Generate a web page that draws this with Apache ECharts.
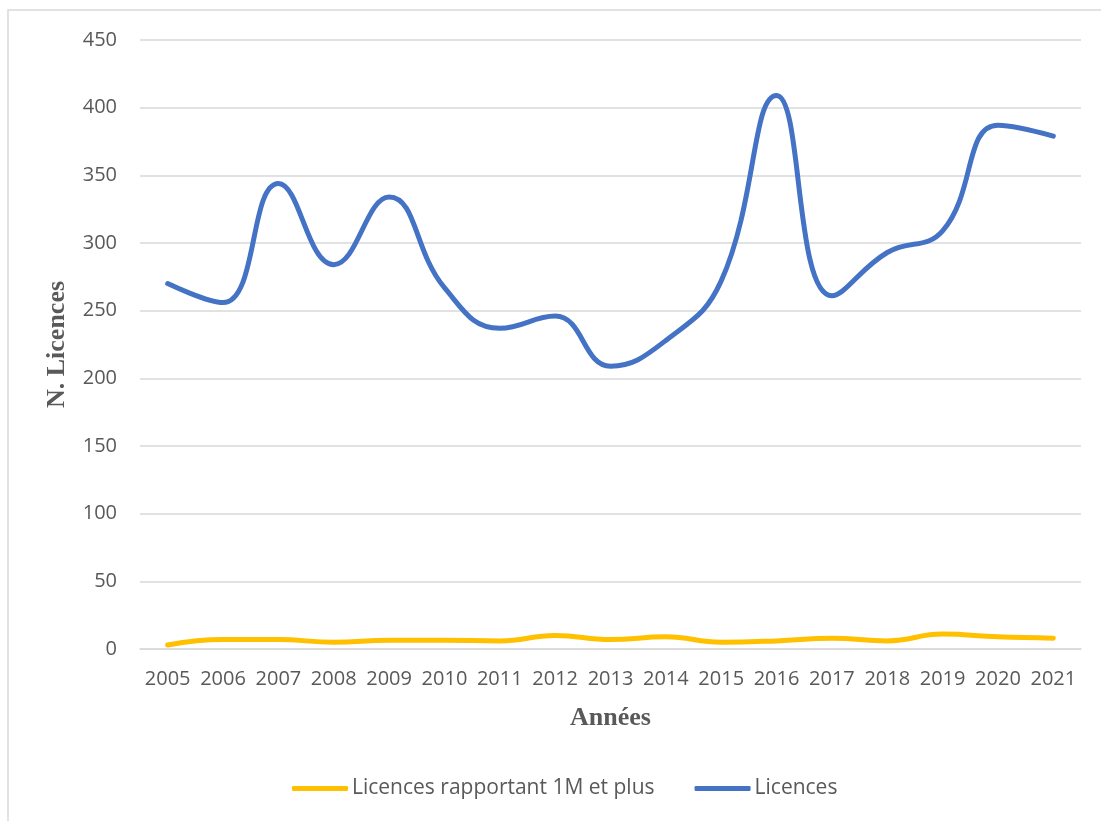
<!DOCTYPE html>
<html>
<head>
<meta charset="utf-8">
<script src="https://cdn.jsdelivr.net/npm/echarts@6/dist/echarts.min.js"></script>
<style>
  html, body { margin: 0; padding: 0; background: #fff; }
  #chart { width: 1101px; height: 821px; }
</style>
</head>
<body>
<div id="chart"></div>
<script>
// data
var years = ['2005', '2006', '2007', '2008', '2009', '2010', '2011', '2012', '2013',
             '2014', '2015', '2016', '2017', '2018', '2019', '2020', '2021'];
var licences1M = [3, 7, 7, 5, 6.5, 6.5, 6, 10, 7, 9, 5, 6, 8, 6, 11, 9, 8];
var licences = [270, 256, 344, 284, 334, 267, 237, 246, 209, 228, 272, 409, 261, 293, 309, 387, 379];
var yTicks = [0, 50, 100, 150, 200, 250, 300, 350, 400, 450];

var txtColor = '#595959';
var labelFont = '"Open Sans", "Noto Sans", sans-serif';
var titleFont = '"Liberation Serif", "DejaVu Serif", serif';

var myChart = echarts.init(document.getElementById('chart'), null, {renderer: 'canvas'});
var option = {
    animation: false,
    backgroundColor: '#fff',
    graphic: [
        {
            type: 'rect',
            shape: {x: 8, y: 10, width: 1110, height: 830},
            style: {fill: 'none', stroke: '#d9d9d9', lineWidth: 1.5},
            silent: true
        }
    ],
    grid: {left: 140, right: 20, top: 40, bottom: 172},
    legend: {
        bottom: 17,
        left: 287,
        itemWidth: 56,
        itemHeight: 5,
        itemGap: 40,
        textStyle: {color: txtColor, fontFamily: labelFont, fontSize: 21, padding: [0, 0, 0, -1]},
        data: [
            {name: 'Licences rapportant 1M et plus', icon: 'roundRect'},
            {name: 'Licences', icon: 'roundRect'}
        ]
    },
    xAxis: {
        type: 'category',
        data: years,
        boundaryGap: true,
        name: 'Années',
        nameLocation: 'middle',
        nameGap: 56,
        nameTextStyle: {color: txtColor, fontFamily: titleFont, fontWeight: 'bold', fontSize: 26},
        axisLine: {show: true, lineStyle: {color: '#d9d9d9', width: 1.5}},
        axisTick: {show: false},
        axisLabel: {color: txtColor, fontFamily: labelFont, fontSize: 20, margin: 20, interval: 0}
    },
    yAxis: {
        type: 'value',
        min: 0,
        max: 450,
        interval: 50,
        name: 'N. Licences',
        nameLocation: 'middle',
        nameGap: 70,
        nameRotate: 90,
        nameTextStyle: {color: txtColor, fontFamily: titleFont, fontWeight: 'bold', fontSize: 26},
        axisLine: {show: false},
        axisTick: {show: false},
        axisLabel: {
            color: txtColor, fontFamily: labelFont, fontSize: 20, margin: 23,
            formatter: function (v) { return yTicks.indexOf(v) >= 0 ? String(v) : ''; }
        },
        splitLine: {lineStyle: {color: '#d9d9d9', width: 1.5}}
    },
    series: [
        {
            name: 'Licences rapportant 1M et plus',
            type: 'line',
            data: licences1M,
            smooth: 0.45,
            showSymbol: false,
            itemStyle: {color: '#FFC000'},
            lineStyle: {color: '#FFC000', width: 5, cap: 'round'}
        },
        {
            name: 'Licences',
            type: 'line',
            data: licences,
            smooth: 0.45,
            showSymbol: false,
            itemStyle: {color: '#4472C4'},
            lineStyle: {color: '#4472C4', width: 5, cap: 'round'}
        }
    ]
};
myChart.setOption(option);
</script>
</body>
</html>
